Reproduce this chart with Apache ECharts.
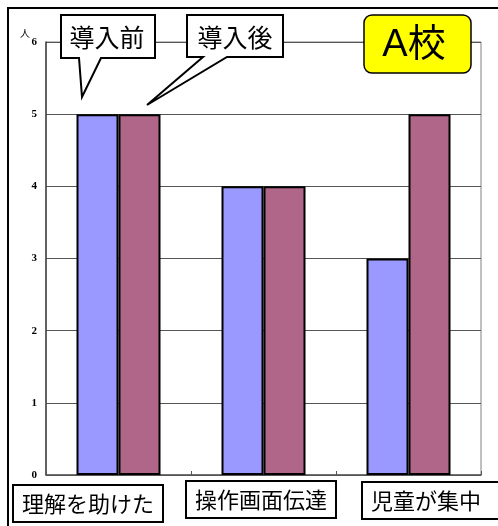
<!DOCTYPE html>
<html><head><meta charset="utf-8">
<script src="https://cdn.jsdelivr.net/npm/echarts@6/dist/echarts.min.js"></script>
<style>html,body{margin:0;padding:0;background:#fff;}#c{width:498px;height:526px;}</style>
</head><body><div id="c"></div>
<script>
const categories = ['理解を助けた', '操作画面伝達', '児童が集中'];
const seriesNames = ['導入前', '導入後'];
const before = [5, 4, 3];
const after = [5, 4, 5];
const yTicks = [0, 1, 2, 3, 4, 5, 6];
const unitLabel = '人';
const schoolLabel = 'A校';

const colors = ['#9999FF', '#B06688'];
const catBoxLeft = [14, 187, 363];
const catBoxTop = [486, 482, 483];
const catBoxPadRight = [8, 8, 24];

const chart = echarts.init(document.getElementById('c'));
const jp = '"Noto Sans CJK JP", sans-serif';

const graphics = [
  { type: 'rect', shape: { x: 8, y: 8, width: 600, height: 600 }, style: { fill: 'none', stroke: '#000', lineWidth: 2 }, z: 0 },
  { type: 'text', x: 20, y: 28, style: { text: unitLabel, font: '10px ' + jp, fill: '#000' }, z: 10 },
  { type: 'polygon', shape: { points: [[61,15],[155,15],[155,58],[101,58],[82,97],[79,58],[61,58]] }, style: { fill: '#fff', stroke: '#000', lineWidth: 2 }, z: 20 },
  { type: 'text', x: 107, y: 37, style: { text: seriesNames[0], font: '25px ' + jp, fill: '#000', align: 'center', verticalAlign: 'middle' }, z: 21 },
  { type: 'polygon', shape: { points: [[187,15],[283,15],[283,57],[227,57],[147,105],[203,57],[187,57]] }, style: { fill: '#fff', stroke: '#000', lineWidth: 2 }, z: 20 },
  { type: 'text', x: 235, y: 37, style: { text: seriesNames[1], font: '25px ' + jp, fill: '#000', align: 'center', verticalAlign: 'middle' }, z: 21 },
  { type: 'rect', shape: { x: 364, y: 15, width: 107, height: 58, r: 8 }, style: { fill: '#FFFF00', stroke: '#000', lineWidth: 1.5 }, z: 20 },
  { type: 'text', x: 414, y: 46, style: { text: schoolLabel, font: '38px "Liberation Sans", ' + jp, fill: '#000', align: 'center', verticalAlign: 'middle' }, z: 21 }
];
categories.forEach((c, i) => {
  graphics.push({ type: 'text', x: catBoxLeft[i], y: catBoxTop[i], style: {
    text: c, font: '22px ' + jp, fill: '#000', backgroundColor: '#fff',
    borderColor: '#000', borderWidth: 2, padding: [4, catBoxPadRight[i], 4, 8], lineHeight: 27 }, z: 20 });
});

chart.setOption({
  animation: false,
  grid: { left: 46, right: 17, top: 42, bottom: 51, show: true, borderColor: '#808080', borderWidth: 1 },
  xAxis: {
    type: 'category', data: categories,
    axisLine: { lineStyle: { color: '#555', width: 1.5 } },
    axisTick: { show: true, inside: true, length: 4, lineStyle: { color: '#555' } },
    axisLabel: { show: false },
    splitLine: { show: false }
  },
  yAxis: {
    type: 'value', min: yTicks[0], max: yTicks[yTicks.length - 1], interval: 1,
    axisLine: { show: true, lineStyle: { color: '#444', width: 1.5 } },
    axisTick: { show: false },
    axisLabel: { fontFamily: '"Liberation Serif", serif', fontWeight: 'bold', fontSize: 11, color: '#000', margin: 9 },
    splitLine: { lineStyle: { color: '#555', width: 1 } }
  },
  series: [
    { name: seriesNames[0], type: 'bar', data: before, barWidth: 42, barGap: '0%', itemStyle: { color: colors[0], borderColor: '#000', borderWidth: 2 } },
    { name: seriesNames[1], type: 'bar', data: after, barWidth: 42, barGap: '0%', itemStyle: { color: colors[1], borderColor: '#000', borderWidth: 2 } }
  ],
  graphic: graphics
});
</script>
</body></html>
